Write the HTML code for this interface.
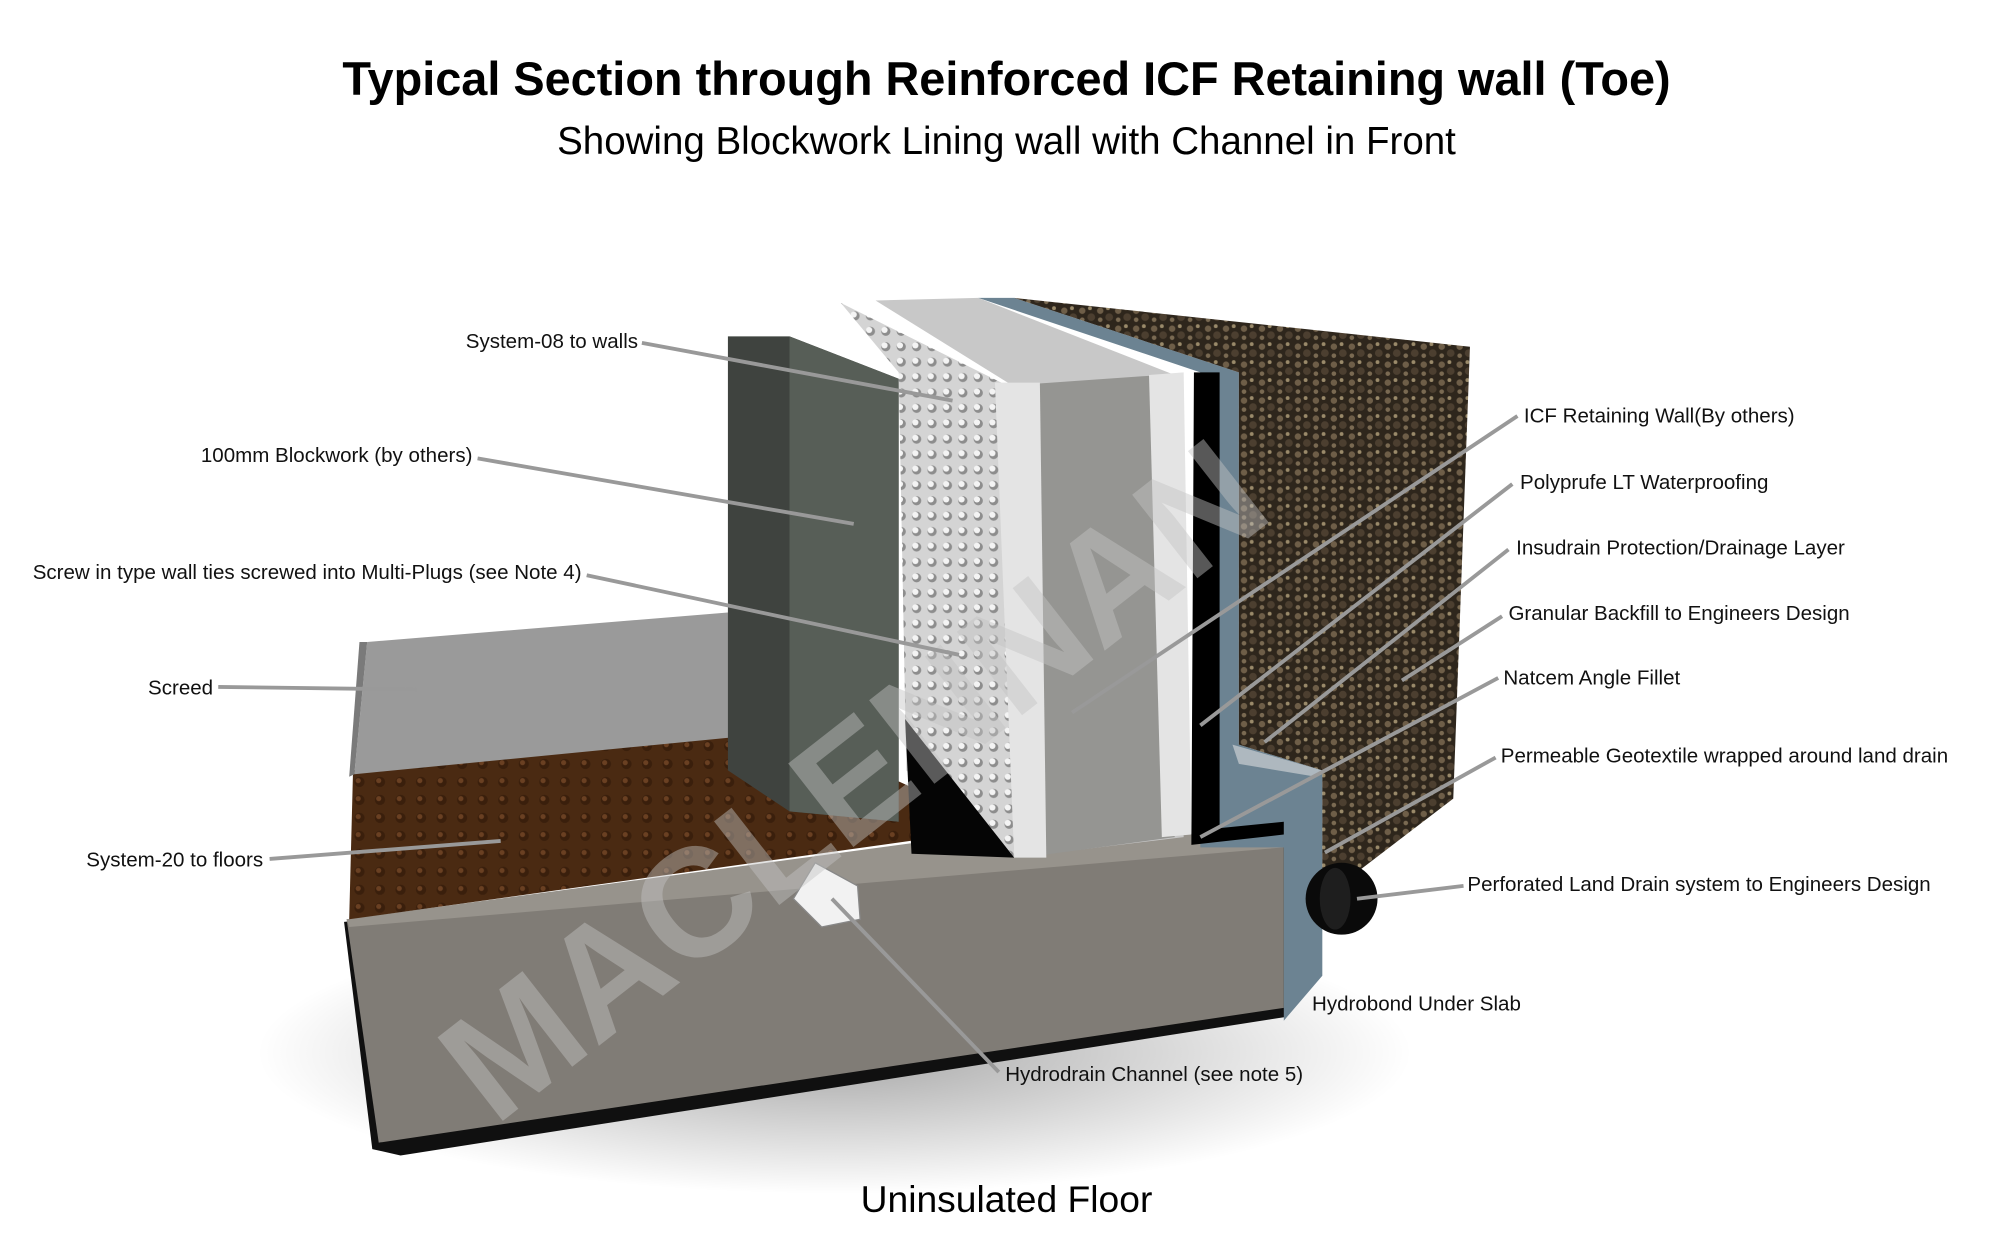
<!DOCTYPE html>
<html><head><meta charset="utf-8"><style>
html,body{margin:0;padding:0;background:#fff;}
svg{display:block}
text{font-family:"Liberation Sans",sans-serif;}
</style></head><body>
<svg width="2013" height="1248" viewBox="0 0 1568 972" xmlns="http://www.w3.org/2000/svg">
<defs>
<pattern id="dimp" width="12" height="12" patternUnits="userSpaceOnUse">
<rect width="12" height="12" fill="#d4d4d4"/><circle cx="6" cy="6" r="3.6" fill="#8d8d8d"/><circle cx="5" cy="5" r="2.4" fill="#f4f4f4"/>
</pattern>
<pattern id="grav" width="14" height="14" patternUnits="userSpaceOnUse">
<rect width="14" height="14" fill="#2e261c"/><circle cx="3" cy="4" r="2.5" fill="#6e5e48"/><circle cx="10" cy="9" r="3" fill="#4c3f30"/><circle cx="9" cy="2" r="1.5" fill="#9a8a6a"/><circle cx="3" cy="11" r="1.8" fill="#7a6a52"/>
</pattern>
<pattern id="brn" width="16" height="14" patternUnits="userSpaceOnUse">
<rect width="16" height="14" fill="#4a2a12"/><circle cx="8" cy="7" r="4" fill="#3a1f0c"/><circle cx="7" cy="6" r="2" fill="#6a4022"/>
</pattern>
<radialGradient id="sh" cx="0.5" cy="0.5" r="0.5"><stop offset="0" stop-color="#000" stop-opacity="0.35"/><stop offset="1" stop-color="#000" stop-opacity="0"/></radialGradient>
</defs>
<rect width="1568" height="972" fill="#fff"/>
<text x="784" y="74" font-size="36.5" font-weight="bold" text-anchor="middle">Typical Section through Reinforced ICF Retaining wall (Toe)</text>
<text x="784" y="120" font-size="30" text-anchor="middle">Showing Blockwork Lining wall with Channel in Front</text>
<text x="784" y="944" font-size="29" text-anchor="middle">Uninsulated Floor</text>

<ellipse cx="650" cy="820" rx="450" ry="110" fill="url(#sh)"/>
<polygon points="268,718 1002,652 1002,792 312,900 290,895" fill="#101010"/>
<polygon points="270,716 1000,650 1000,785 295,890" fill="#807c76"/>
<polygon points="270,716 775,648 1000,650 1000,660 272,722" fill="#97938c"/>
<polygon points="275,600 615,570 780,645 272,716" fill="url(#brn)"/>
<polygon points="286,500 580,476 615,570 276,603" fill="#9a9a9a"/>
<polygon points="276,603 286,500 280,500 272,605" fill="#7a7a7a"/>
<polygon points="567,262 615,262 700,295 700,640 615,632 567,600" fill="#3f433f"/>
<polygon points="615,262 700,295 700,640 615,632" fill="#575e57"/>
<polygon points="655,236 780,298 790,668 760,655 706,600 700,290" fill="url(#dimp)"/>
<polygon points="705,560 790,668 710,665" fill="#050505"/>
<polygon points="682,234 762,232 915,292 922,652 790,668 785,298" fill="#c8c8c8"/>
<polygon points="790,300 905,292 915,652 797,668" fill="#959592"/>
<polygon points="775,298 810,298 815,668 790,668" fill="#e4e4e4"/>
<polygon points="895,292 922,290 928,650 905,652" fill="#e4e4e4"/>
<polygon points="762,232 790,232 965,290 965,580 1030,600 1030,760 1000,795 1000,660 935,660 935,290" fill="#6c8392"/>
<polygon points="930,290 950,290 950,645 1000,640 1000,650 928,658" fill="#000"/>
<polygon points="960,580 1030,600 1025,605 965,595" fill="#aeb8bf"/>
<polygon points="790,232 1145,270 1132,622 1030,700 1030,600 965,580 965,290" fill="url(#grav)"/>
<circle cx="1045" cy="700" r="28" fill="#0a0a0a"/>
<ellipse cx="1040" cy="700" rx="12" ry="24" fill="#1e1e1e"/>
<polygon points="618,700 635,672 668,690 670,716 640,722" fill="#f2f2f2" stroke="#888"/>
<text x="690" y="640" font-size="120" font-weight="bold" fill="#c4c4c4" fill-opacity="0.45" text-anchor="middle" transform="rotate(-38 690 640)">MACLENNAN</text>

<g stroke="#999" stroke-width="3" fill="none">
<line x1="500" y1="267" x2="742" y2="312"/>
<line x1="372" y1="357" x2="665" y2="408"/>
<line x1="457" y1="448" x2="747" y2="510"/>
<line x1="170" y1="535" x2="325" y2="537"/>
<line x1="210" y1="669" x2="390" y2="655"/>
<line x1="1182" y1="324" x2="835" y2="555"/>
<line x1="1178" y1="377" x2="935" y2="565"/>
<line x1="1175" y1="428" x2="985" y2="578"/>
<line x1="1170" y1="480" x2="1092" y2="530"/>
<line x1="1167" y1="528" x2="935" y2="652"/>
<line x1="1165" y1="590" x2="1032" y2="664"/>
<line x1="1140" y1="690" x2="1057" y2="700"/>
<line x1="778" y1="835" x2="648" y2="700"/>
</g>
<g font-size="16" fill="#111">
<text x="497" y="271" text-anchor="end">System-08 to walls</text>
<text x="368" y="360" text-anchor="end">100mm Blockwork (by others)</text>
<text x="453" y="451" text-anchor="end">Screw in type wall ties screwed into Multi-Plugs (see Note 4)</text>
<text x="166" y="541" text-anchor="end">Screed</text>
<text x="205" y="675" text-anchor="end">System-20 to floors</text>
<text x="1187" y="329">ICF Retaining Wall(By others)</text>
<text x="1184" y="381">Polyprufe LT Waterproofing</text>
<text x="1181" y="432">Insudrain Protection/Drainage Layer</text>
<text x="1175" y="483">Granular Backfill to Engineers Design</text>
<text x="1171" y="533">Natcem Angle Fillet</text>
<text x="1169" y="594">Permeable Geotextile wrapped around land drain</text>
<text x="1143" y="694">Perforated Land Drain system to Engineers Design</text>
<text x="1022" y="787">Hydrobond Under Slab</text>
<text x="783" y="842">Hydrodrain Channel (see  note 5)</text>
</g>
</svg>
</body></html>
